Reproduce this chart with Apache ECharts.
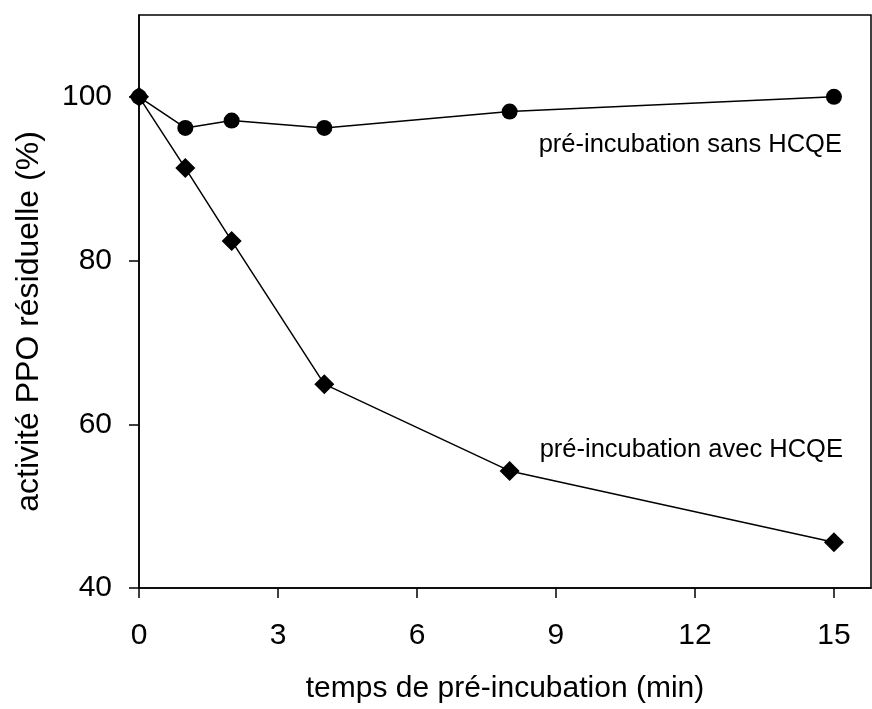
<!DOCTYPE html>
<html>
<head>
<meta charset="utf-8">
<script src="https://cdn.jsdelivr.net/npm/echarts@6/dist/echarts.min.js"></script>
<style>html,body{margin:0;padding:0;background:#fff}#c{width:872px;height:709px}</style>
</head>
<body>
<div id="c"></div>
<script>
const timesMin = [0, 1, 2, 4, 8, 15];
const sansHCQE = [100, 96.2, 97.1, 96.2, 98.2, 100];
const avecHCQE = [100, 91.3, 82.4, 64.9, 54.3, 45.6];
const xTitle = 'temps de pré-incubation (min)';
const yTitle = 'activité PPO résiduelle (%)';
const labelSans = 'pré-incubation sans HCQE';
const labelAvec = 'pré-incubation avec HCQE';

const FONT = '"Liberation Sans", Arial, sans-serif';

function build(vals, lastLabel, off) {
  return timesMin.map((t, i) => {
    const item = { value: [t, vals[i]] };
    if (i === timesMin.length - 1) {
      item.label = {
        show: true, position: 'inside', formatter: lastLabel,
        align: 'right', verticalAlign: 'middle', offset: off,
        color: '#000', fontFamily: FONT, fontSize: 25.5
      };
    }
    return item;
  });
}

const chart = echarts.init(document.getElementById('c'), null, { renderer: 'canvas' });
chart.setOption({
  backgroundColor: '#fff',
  animation: false,
  grid: { left: 139, right: 1, top: 15, bottom: 117, show: true, borderColor: '#000', borderWidth: 1.5, backgroundColor: 'transparent' },
  xAxis: {
    type: 'value', min: 0, max: 15.8, interval: 3,
    name: xTitle, nameLocation: 'middle', nameGap: 86,
    nameTextStyle: { color: '#000', fontFamily: FONT, fontSize: 30 },
    axisLine: { show: true, lineStyle: { color: '#000', width: 1.5 } },
    axisTick: { show: true, length: 10, lineStyle: { color: '#000', width: 1.5 } },
    axisLabel: { color: '#000', fontFamily: FONT, fontSize: 30, margin: 33, showMaxLabel: false },
    splitLine: { show: false }
  },
  yAxis: {
    type: 'value', min: 40, max: 110, interval: 20,
    name: yTitle, nameLocation: 'middle', nameGap: 94, nameRotate: 90,
    nameTextStyle: { color: '#000', fontFamily: FONT, fontSize: 32, padding: [0, 40, 0, 0] },
    axisLine: { show: true, lineStyle: { color: '#000', width: 1.5 } },
    axisTick: { show: true, length: 10, lineStyle: { color: '#000', width: 1.5 } },
    axisLabel: { color: '#000', fontFamily: FONT, fontSize: 30, margin: 27, showMaxLabel: false },
    splitLine: { show: false }
  },
  series: [
    {
      type: 'line', data: build(sansHCQE, labelSans, [8, 48]),
      symbol: 'circle', symbolSize: 16,
      lineStyle: { color: '#000', width: 1.5 },
      itemStyle: { color: '#000' }, z: 3
    },
    {
      type: 'line', data: build(avecHCQE, labelAvec, [9, -92]),
      symbol: 'diamond', symbolSize: 20,
      lineStyle: { color: '#000', width: 1.5 },
      itemStyle: { color: '#000' }, z: 2
    }
  ]
});
</script>
</body>
</html>
